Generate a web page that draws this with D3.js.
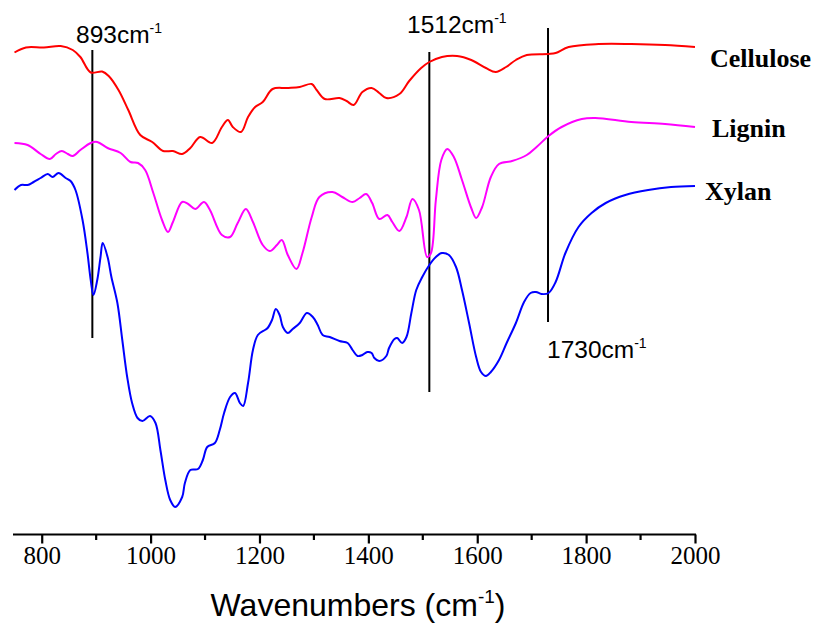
<!DOCTYPE html>
<html>
<head>
<meta charset="utf-8">
<script src="https://cdn.jsdelivr.net/npm/d3@7"></script>
<style>
  html, body { margin: 0; padding: 0; background: #fff; }
  svg { display: block; }
</style>
</head>
<body>
<svg id="chart" width="818" height="629"></svg>
<script>
// Wavenumbers (cm-1) and transmittance (arbitrary units, offset spectra)
const celluloseWn = [750,771,804,835,857,871,890,911,923,941,959,981,1003,1023,1041,1058,1073,1091,1113,1131,1142,1151,1166,1179,1192,1206,1224,1250,1274,1296,1305,1320,1347,1360,1373,1389,1406,1420,1433,1457,1475,1497,1512,1535,1563,1589,1616,1634,1653,1671,1691,1731,1744,1768,1823,1883,1945,2000];
const celluloseT  = [101.5,102.5,102.5,102.8,102,100.6,97.5,97.7,96.8,94,90,85,83.6,81.8,81.8,81.2,82.4,84.6,83.4,86.6,88,86.6,85.6,88.6,90.6,91.6,94.2,94.4,94.6,95.2,94,92.2,92.4,91.8,91,93.6,94.4,93.4,92.4,93.2,95.8,98.4,99.6,100.6,100.8,100,98.4,97.6,98.6,100,101,101.2,101.4,102.6,103.2,103.2,103,102.6];

const ligninWn = [750,774,798,815,826,837,848,857,871,890,902,921,945,963,977,990,1005,1021,1032,1041,1058,1069,1082,1098,1109,1131,1146,1160,1175,1188,1206,1219,1232,1241,1252,1268,1279,1296,1310,1334,1352,1371,1384,1396,1407,1420,1435,1444,1457,1470,1481,1493,1508,1515,1524,1534,1545,1557,1572,1589,1598,1609,1625,1640,1664,1691,1709,1731,1755,1792,1817,1883,1945,2000];
const ligninT  = [83.4,83,81.2,80.2,81.2,81.8,81.2,80.8,82,83.4,83.6,82.4,81.4,79.6,79.4,78,73.4,68,65.6,67.6,71.6,71.2,70.2,71.6,70,65,64.6,67.4,70.2,67.6,63,61.8,63,64,61,58.2,61.4,68.6,72.6,73.6,72.6,71.6,72.4,73.2,71.4,68.2,69,67.6,65.8,68.6,72.2,70,60.6,61.4,72,80,82.2,80.6,76,70.4,68.4,70.6,76.6,79.2,79.8,81,82.6,84.8,86.6,88.2,88.4,87.6,87.2,86.6];

const xylanWn = [750,762,774,785,798,811,820,831,844,853,862,875,884,890,895,902,908,912,921,928,939,948,957,966,976,985,999,1009,1018,1027,1036,1045,1058,1063,1073,1087,1096,1104,1118,1127,1135,1146,1155,1164,1170,1179,1188,1197,1210,1215,1223,1230,1237,1243,1252,1261,1274,1287,1298,1307,1316,1329,1347,1362,1371,1380,1389,1398,1406,1411,1420,1433,1438,1448,1453,1462,1470,1479,1488,1499,1512,1524,1535,1548,1561,1572,1585,1598,1607,1616,1625,1640,1654,1671,1686,1698,1708,1718,1731,1744,1762,1786,1810,1836,1872,1914,1956,2000];
const xylanT  = [74,75,75,75.6,76.4,77.2,76.6,77.4,76.4,75.8,74,68,61.4,56,53,56,60.6,63.4,60.6,56.6,51.4,44,36.6,31.4,28.4,27.8,28.8,27.4,22,16,12,10.6,12.6,15.4,18,18.2,20,22.6,23.4,26,29.4,32.6,33.4,31.4,30.8,35.4,42,45,46,46.4,48,50.2,49,46.6,45.4,46.2,47.4,49.4,48.6,47,45,44.6,43.8,43.4,42,40.8,41,41.6,41.4,40.4,39.8,40.8,42.4,44.2,44.4,43.4,44.6,49.4,54,56.6,59,60.6,61.4,61,58.6,54,47.4,40.6,37.6,36.8,37.6,40,43.4,47.4,51.6,53.4,53.6,53.2,53.4,55.6,61.4,66.6,69.4,71.4,73,74,74.6,74.8];

const seriesNames  = ["Cellulose", "Lignin", "Xylan"];
const seriesColors = ["#ff0000", "#ff00ff", "#0000ff"];

// Marker lines: wavenumber, top and bottom (transmittance units)
const markerWn     = [893, 1512, 1730];
const markerTop    = [102, 101.6, 106.4];
const markerBottom = [44.4, 33.6, 47.6];
const markerLabels = ["893", "1512", "1730"];

const majorTicks = [800, 1000, 1200, 1400, 1600, 1800, 2000];
const minorTicks = [900, 1100, 1300, 1500, 1700, 1900];

const svg = d3.select("#chart");
const x = d3.scaleLinear().domain([750, 2000]).range([14.5, 695]);
const y = d3.scaleLinear().domain([0, 110]).range([560, 10]);
const axisY = 534.5;

const series = [
  {name: seriesNames[0], color: seriesColors[0], wn: celluloseWn, t: celluloseT},
  {name: seriesNames[1], color: seriesColors[1], wn: ligninWn, t: ligninT},
  {name: seriesNames[2], color: seriesColors[2], wn: xylanWn, t: xylanT}
];

const line = d3.line()
  .x(d => x(d[0]))
  .y(d => y(d[1]))
  .curve(d3.curveCatmullRom.alpha(0.5));

// Marker vertical lines
svg.append("g").selectAll("line")
  .data(markerWn)
  .join("line")
  .attr("x1", d => x(d)).attr("x2", d => x(d))
  .attr("y1", (d, i) => y(markerTop[i]))
  .attr("y2", (d, i) => y(markerBottom[i]))
  .attr("stroke", "#000").attr("stroke-width", 2);

// Spectra
svg.append("g").selectAll("path")
  .data(series)
  .join("path")
  .attr("d", s => line(s.wn.map((w, i) => [w, s.t[i]])))
  .attr("fill", "none")
  .attr("stroke", s => s.color)
  .attr("stroke-width", 2)
  .attr("stroke-linejoin", "round");

// Axis
const gx = svg.append("g").attr("transform", `translate(0,${axisY})`);
gx.call(d3.axisBottom(x).tickValues(majorTicks).tickSize(9).tickSizeOuter(0).tickFormat(d3.format("d")));
gx.select(".domain").attr("stroke-width", 2.2).attr("d", `M${x(750) - 1.5},0H${x(2000) + 1}`);
gx.selectAll(".tick line").attr("stroke-width", 2.2);
gx.selectAll(".tick text")
  .attr("y", 29.5).attr("dy", null)
  .attr("font-family", "'Liberation Serif', 'Times New Roman', serif")
  .attr("font-size", 25).attr("fill", "#000");

svg.append("g").attr("transform", `translate(0,${axisY})`)
  .selectAll("line").data(minorTicks).join("line")
  .attr("x1", d => x(d)).attr("x2", d => x(d))
  .attr("y1", 0).attr("y2", 5.5)
  .attr("stroke", "#000").attr("stroke-width", 2.2);

// Axis title
const title = svg.append("text")
  .attr("x", 358).attr("y", 616)
  .attr("text-anchor", "middle")
  .attr("font-family", "'Liberation Sans', Arial, sans-serif")
  .attr("font-size", 32).attr("fill", "#000");
title.append("tspan").text("Wavenumbers (cm");
title.append("tspan").attr("font-size", 19).attr("dy", -13).text("-1");
title.append("tspan").attr("dy", 13).text(")");

// Marker labels
const labelPos = [[76, 43], [407, 33], [547, 358]];
markerLabels.forEach((lab, i) => {
  const t = svg.append("text")
    .attr("x", labelPos[i][0]).attr("y", labelPos[i][1])
    .attr("font-family", "'Liberation Sans', Arial, sans-serif")
    .attr("font-size", 24.5).attr("fill", "#000");
  t.append("tspan").text(lab + "cm");
  t.append("tspan").attr("font-size", 14).attr("dy", -10).text("-1");
});

// Series names
const namePos = [[710, 67], [712, 137], [705, 200]];
seriesNames.forEach((n, i) => {
  svg.append("text")
    .attr("x", namePos[i][0]).attr("y", namePos[i][1])
    .attr("font-family", "'Liberation Serif', 'Times New Roman', serif")
    .attr("font-weight", "bold")
    .attr("font-size", 26).attr("fill", "#000")
    .text(n);
});
</script>
</body>
</html>
